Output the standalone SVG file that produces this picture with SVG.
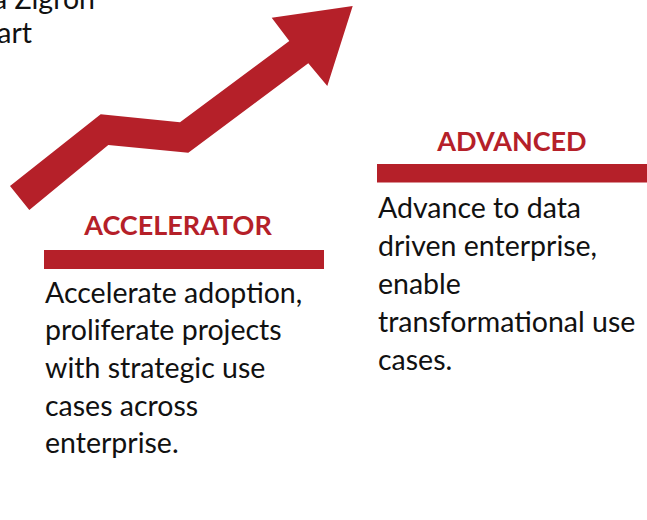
<svg xmlns="http://www.w3.org/2000/svg" width="647" height="520" viewBox="0 0 647 520">
<style>
.body{font-family:Lato,"Open Sans","Liberation Sans",sans-serif;font-size:28.5px;fill:#111}
.head{font-family:Lato,"Open Sans","Liberation Sans",sans-serif;font-size:27px;font-weight:bold;fill:#b52029;text-anchor:middle}
.bar{fill:#b52029}
</style>
<rect width="647" height="520" fill="#fff"/>
<g id="title">
<text class="body" x="95" y="9" text-anchor="end">a Zigron</text>
<text class="body" x="32" y="43" text-anchor="end">art</text>
</g>
<g id="growth-arrow">
<polygon class="bar" points="29.3,210 10,186 100.7,114.3 180,122.3 289.3,41 271.7,17.7 352.7,6 327.3,86 308.3,63.3 188.3,152.7 108.3,145"/>
</g>
<g id="accelerator">
<text class="head" x="178" y="235">ACCELERATOR</text>
<rect class="bar" x="44" y="250" width="280" height="19"/>
<text class="body" x="45" y="302.7">Accelerate adoption,</text>
<text class="body" x="45" y="340.3">proliferate projects</text>
<text class="body" x="45" y="377.9">with strategic use</text>
<text class="body" x="45" y="415.5">cases across</text>
<text class="body" x="45" y="453">enterprise.</text>
</g>
<g id="advanced">
<text class="head" x="512" y="150.7">ADVANCED</text>
<rect class="bar" x="377" y="164" width="270" height="18.5"/>
<text class="body" x="378" y="217.7">Advance to data</text>
<text class="body" x="378" y="255.7">driven enterprise,</text>
<text class="body" x="378" y="293.7">enable</text>
<text class="body" x="378" y="331.7">transformational use</text>
<text class="body" x="378" y="369.7">cases.</text>
</g>
</svg>
